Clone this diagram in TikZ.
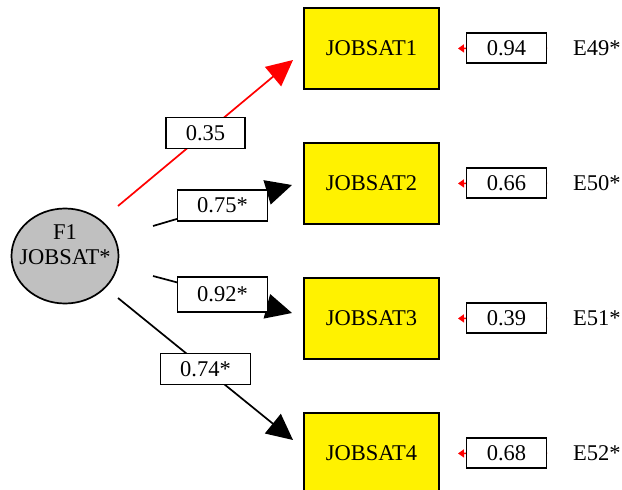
\documentclass[tikz,border=0pt]{standalone}
\usepackage{fontspec}
\setmainfont{Liberation Serif}
\usetikzlibrary{arrows.meta, shapes.geometric}

\definecolor{factgray}{RGB}{192,192,192}

\tikzset{
    factor/.style = {ellipse, line width = 0.6mm, draw = black, fill = factgray, minimum width = 107pt, minimum height = 95pt},
    obsbox/.style = {rectangle, line width = 0.7mm, draw = black, fill = yellow, minimum width = 135pt, minimum height = 81pt},
    coef/.style = {rectangle, line width = 0.7mm, draw = black, fill = white, text = black, inner sep = 0pt, minimum width = 79pt, minimum height = 31pt},
    coefstar/.style = {coef, minimum width = 90pt},
    loading/.style = {line width = 0.6mm, -{Triangle[length = 26pt, width = 25pt]}},
    errpath/.style = {line width = 0.5mm, red, -{Triangle[length = 6pt, width = 8pt]}, shorten < = 26pt, shorten > = 18pt}
}

\begin{document}
\begin{tikzpicture}[x = 1pt, y = -1pt, font = \fontsize{22.5}{25}\selectfont]

    \useasboundingbox (0, 0) rectangle (622, 490);

    % factor
    \node[factor] (f1) at (65, 256) {};
    \node[align = center] (f1txt) at (65, 245) {F1\\JOBSAT*};

    % observed variables
    \node[obsbox] (js1) at (371.5, 48.5) {JOBSAT1};
    \node[obsbox] (js2) at (371.5, 183.5) {JOBSAT2};
    \node[obsbox] (js3) at (371.5, 318.5) {JOBSAT3};
    \node[obsbox] (js4) at (371.5, 453.5) {JOBSAT4};

    % errors
    \node[anchor = west, inner sep = 0pt] (e49) at (573, 48) {E49*};
    \node[anchor = west, inner sep = 0pt] (e50) at (573, 183) {E50*};
    \node[anchor = west, inner sep = 0pt] (e51) at (573, 318) {E51*};
    \node[anchor = west, inner sep = 0pt] (e52) at (573, 453) {E52*};

    % loadings
    \coordinate (s1) at (118, 206);
    \coordinate (t1) at (293, 60);
    \coordinate (s2) at (153, 226);
    \coordinate (t2) at (292, 185);
    \coordinate (s3) at (153, 276);
    \coordinate (t3) at (292, 313);
    \coordinate (s4) at (118, 298);
    \coordinate (t4) at (293, 440);

    \draw[loading, red] (s1) -- node[coef] (c1) {0.35} (t1);
    \draw[loading] (s2) -- node[coefstar] (c2) {0.75*} (t2);
    \draw[loading] (s3) -- node[coefstar, minimum height = 35pt] (c3) {0.92*} (t3);
    \draw[loading] (s4) -- node[coefstar] (c4) {0.74*} (t4);

    \draw[errpath] (e49.west) -- node[coef, minimum width = 80pt, minimum height = 30pt] (d1) {0.94} (js1.east);
    \draw[errpath] (e50.west) -- node[coef, minimum width = 80pt, minimum height = 30pt] (d2) {0.66} (js2.east);
    \draw[errpath] (e51.west) -- node[coef, minimum width = 80pt, minimum height = 30pt] (d3) {0.39} (js3.east);
    \draw[errpath] (e52.west) -- node[coef, minimum width = 80pt, minimum height = 30pt] (d4) {0.68} (js4.east);

\end{tikzpicture}
\end{document}
